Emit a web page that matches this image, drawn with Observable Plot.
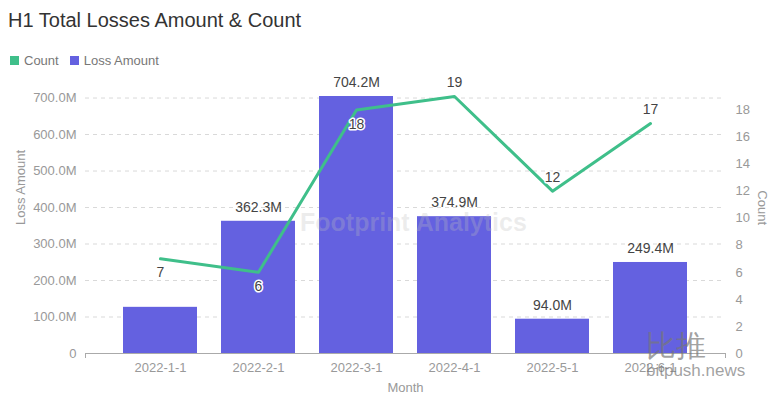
<!DOCTYPE html>
<html><head><meta charset="utf-8">
<script src="https://cdn.jsdelivr.net/npm/d3@7"></script>
<script src="https://cdn.jsdelivr.net/npm/@observablehq/plot@0.6"></script>
<style>
body{margin:0;background:#fff;font-family:"Liberation Sans",Arial,sans-serif;}
#wrap{position:relative;width:772px;height:398px;overflow:hidden;background:#fff}
#title{position:absolute;left:8px;top:9px;font-size:20px;color:#333;white-space:nowrap}
#legend{position:absolute;left:10px;top:53px;font-size:13px;color:#777;display:flex;align-items:center;white-space:nowrap}
.sw{display:inline-block;width:9px;height:9px;margin-right:5px}
#chart{position:absolute;left:0;top:72px}
.wm{position:absolute;white-space:nowrap;pointer-events:none}
</style></head><body>
<div id="wrap">
  <div id="title">H1 Total Losses Amount &amp; Count</div>
  <div id="legend"><span class="sw" style="background:#3fbf8a"></span><span style="margin-right:11px">Count</span><span class="sw" style="background:#6461e0"></span><span>Loss Amount</span></div>
  <div id="chart"></div>
  <div class="wm" style="left:300px;top:208px;font-size:25px;font-weight:bold;color:rgba(190,190,190,0.28)">Footprint Analytics</div>
  <div class="wm" style="left:646px;top:326px;font-size:30px;color:rgba(120,120,120,0.7)">比推</div>
  <div class="wm" style="left:646px;top:361px;font-size:17px;color:rgba(120,120,120,0.7)">bitpush.news</div>
</div>
<script>
const months = ["2022-1-1","2022-2-1","2022-3-1","2022-4-1","2022-5-1","2022-6-1"];
const lossAmount = [126.5e6, 362.3e6, 704.2e6, 374.9e6, 94.0e6, 249.4e6];
const counts = [7, 6, 18, 19, 12, 17];
const amountTicks = [0, 100e6, 200e6, 300e6, 400e6, 500e6, 600e6, 700e6];
const countTicks = [0, 2, 4, 6, 8, 10, 12, 14, 16, 18];
const showAmountLabel = [false, true, true, true, true, true];
const countLabelAbove = [false, false, false, true, true, true];

const data = months.map((m, i) => ({month: m, amount: lossAmount[i], count: counts[i], showA: showAmountLabel[i], above: countLabelAbove[i]}));
const k = d3.max(lossAmount) / d3.max(counts);
const fmtM = d => d === 0 ? "0" : (d / 1e6).toFixed(1) + "M";

const chart = Plot.plot({
  width: 772, height: 326,
  marginLeft: 85, marginRight: 47, marginTop: 24, marginBottom: 45,
  style: {fontFamily: '"Liberation Sans", Arial, sans-serif', background: "transparent"},
  x: {type: "band", domain: months, paddingInner: 0.25, paddingOuter: 0.39},
  y: {domain: [0, d3.max(lossAmount)]},
  marks: [
    Plot.gridY(amountTicks, {stroke: "#d9d9d9", strokeOpacity: 1, strokeDasharray: "4,4"}),
    Plot.barY(data, {x: "month", y: "amount", fill: "#6461e0"}),
    Plot.ruleY([0], {stroke: "#aaa", strokeWidth: 1}),
    Plot.line(data, {x: "month", y: d => d.count * k, stroke: "#3fbf8a", strokeWidth: 3}),
    Plot.text(data.filter(d => d.showA), {x: "month", y: "amount", text: d => fmtM(d.amount), dy: -14, fill: "#444", fontSize: 14}),
    Plot.text(data, {x: "month", y: d => d.count * k, text: d => String(d.count), dy: d => 0, fill: "#444", fontSize: 14, stroke: "white", strokeWidth: 3, paintOrder: "stroke",
      filter: d => d.above, dy: -14}),
    Plot.text(data, {x: "month", y: d => d.count * k, text: d => String(d.count), fill: "#444", fontSize: 14, stroke: "white", strokeWidth: 3, paintOrder: "stroke",
      filter: d => !d.above, dy: 14}),
    Plot.axisY(amountTicks, {anchor: "left", tickSize: 0, tickPadding: 9, tickFormat: fmtM, label: null, color: "#999", fontSize: 13}),
    Plot.axisY(countTicks.map(c => c * k), {anchor: "right", tickSize: 0, tickPadding: 10, tickFormat: d => String(Math.round(d / k)), label: null, color: "#999", fontSize: 13}),
    Plot.axisX({tickSize: 0, tickPadding: 9, label: null, color: "#999", fontSize: 13}),
    Plot.text(["Month"], {frameAnchor: "bottom", dy: 38, fill: "#999", fontSize: 13}),
    Plot.text(["Loss Amount"], {frameAnchor: "left", dx: -65, rotate: -90, fill: "#999", fontSize: 13}),
    Plot.text(["Count"], {frameAnchor: "right", dx: 37, rotate: 90, fill: "#999", fontSize: 13})
  ]
});
document.getElementById("chart").appendChild(chart);
// small end ticks on the category axis
const xr = [85, 772 - 47];
const y0 = chart.scale("y").apply(0);
const svg = d3.select(chart);
xr.forEach(x => svg.append("line").attr("x1", x + 0.5).attr("x2", x + 0.5).attr("y1", y0).attr("y2", y0 + 5).attr("stroke", "#aaa"));
</script>
</body></html>
